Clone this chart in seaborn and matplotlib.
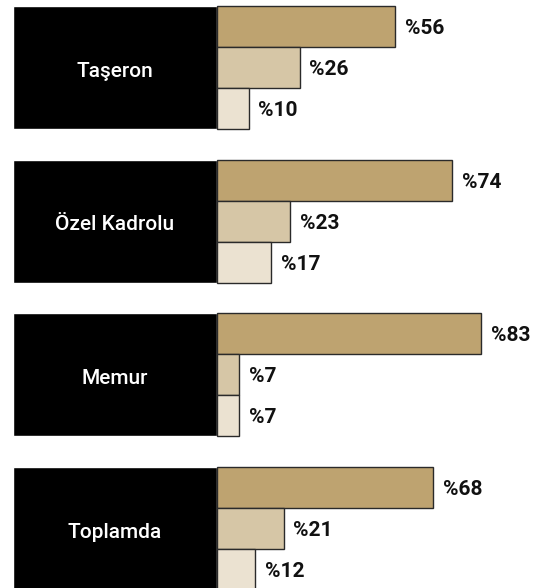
import matplotlib
matplotlib.use("Agg")
import matplotlib.pyplot as plt
import seaborn as sns
import pandas as pd

categories = ["Taşeron", "Özel Kadrolu", "Memur", "Toplamda"]
series_names = ["A", "B", "C"]
series_a = [56, 74, 83, 68]
series_b = [26, 23, 7, 21]
series_c = [10, 17, 7, 12]
colors = ["#BEA370", "#D6C6A6", "#EBE2D1"]

rows = []
for name, vals in zip(series_names, [series_a, series_b, series_c]):
    for cat, v in zip(categories, vals):
        rows.append({"category": cat, "series": name, "value": v})
df = pd.DataFrame(rows)

sns.set_theme(style="white")
plt.rcParams["font.family"] = ["Roboto", "DejaVu Sans"]

fig = plt.figure(figsize=(5.4, 5.88), dpi=100)
ax = fig.add_axes([0, 0, 1, 1])

sns.barplot(data=df, x="value", y="category", hue="series", orient="h",
            order=categories, hue_order=series_names, palette=colors,
            width=0.8, dodge=True, errorbar=None, legend=False,
            edgecolor="#2a2a2a", linewidth=1.0, saturation=1, ax=ax)

for cont in ax.containers:
    labels = ax.bar_label(cont, fmt=lambda v: f"%{v:.0f}", padding=7,
                          fontsize=15, fontweight="bold", color="#111111")
    for t in labels:
        t.set_va("center_baseline")

box_w = 64.2
ax.barh(range(len(categories)), -box_w, left=0, height=0.8,
        color="black", zorder=0.5)
for i, cat in enumerate(categories):
    ax.text(-box_w / 2, i + 0.01, cat, color="white", ha="center",
            va="center_baseline", fontsize=15, fontweight="medium")

ax.set_xlim(-68.2, 101.6)
ax.set_ylim(3.386, -0.439)
ax.set_axis_off()

fig.savefig("out.png", dpi=100)
